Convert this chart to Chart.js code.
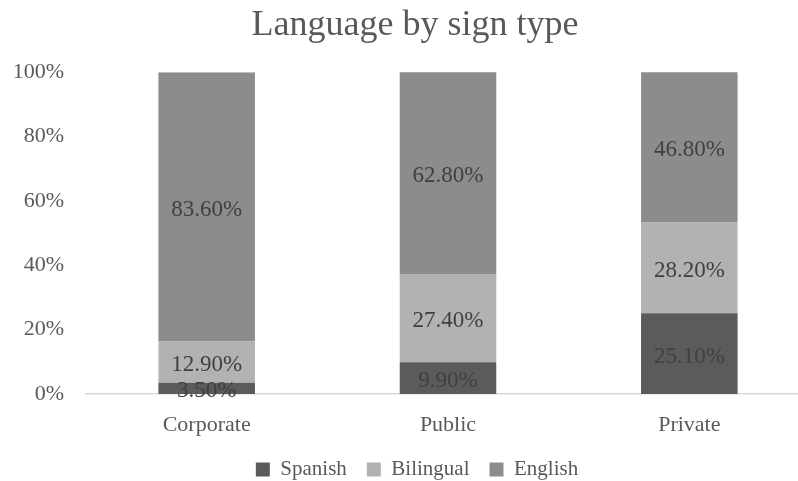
<!DOCTYPE html>
<html>
<head>
<meta charset="utf-8">
<script src="https://cdn.jsdelivr.net/npm/chart.js@4/dist/chart.umd.min.js"></script>
<style>
  html, body { margin: 0; padding: 0; background: #ffffff; overflow: hidden; }
  #wrap { width: 830px; height: 481px; }
</style>
</head>
<body>
<div id="wrap"><canvas id="chart" width="830" height="481"></canvas></div>
<script>
const categories = ['Corporate', 'Public', 'Private'];
const spanish   = [3.5, 9.9, 25.1];
const bilingual = [12.9, 27.4, 28.2];
const english   = [83.6, 62.8, 46.8];
const yTicks    = [0, 20, 40, 60, 80, 100];

const FONT = "'Liberation Serif', 'DejaVu Serif', serif";

// Writes each segment's value in the middle of its bar piece
const segmentLabels = {
  id: 'segmentLabels',
  afterDatasetsDraw(chart) {
    const ctx = chart.ctx;
    ctx.save();
    ctx.font = '23px ' + FONT;
    ctx.fillStyle = '#404040';
    ctx.textAlign = 'center';
    ctx.textBaseline = 'middle';
    chart.data.datasets.forEach((ds, di) => {
      const meta = chart.getDatasetMeta(di);
      meta.data.forEach((bar, i) => {
        const v = ds.data[i];
        const yMid = (bar.y + bar.base) / 2;
        ctx.fillText(v.toFixed(2) + '%', bar.x, yMid + 3);
      });
    });
    ctx.restore();
  }
};

// Centres the title and legend on the whole canvas rather than on the padded area
const centreHeadings = {
  id: 'centreHeadings',
  afterLayout(chart) {
    if (chart.titleBlock) { chart.titleBlock.left += 10; chart.titleBlock.right += 10; }
    if (chart.legend) { chart.legend.left += 12; chart.legend.right += 12; }
  }
};

new Chart(document.getElementById('chart'), {
  type: 'bar',
  data: {
    labels: categories,
    datasets: [
      { label: 'Spanish',   data: spanish,   backgroundColor: '#5b5b5b' },
      { label: 'Bilingual', data: bilingual, backgroundColor: '#b2b2b2' },
      { label: 'English',   data: english,   backgroundColor: '#8c8c8c' }
    ]
  },
  options: {
    responsive: false,
    animation: false,
    layout: { padding: { left: 0, right: 20, top: 0, bottom: -9 } },
    datasets: { bar: { categoryPercentage: 0.4, barPercentage: 1.0, borderWidth: 0 } },
    plugins: {
      title: {
        display: true,
        text: 'Language by sign type',
        color: '#595959',
        font: { family: FONT, size: 36, weight: 'normal', lineHeight: 1.2 },
        padding: { top: 4, bottom: 25 }
      },
      legend: {
        position: 'bottom',
        labels: {
          color: '#595959',
          font: { family: FONT, size: 21 },
          boxWidth: 14,
          boxHeight: 14,
          padding: 20
        }
      },
      tooltip: { enabled: false }
    },
    scales: {
      x: {
        stacked: true,
        grid: { display: false, drawTicks: false },
        border: { display: true, color: '#d9d9d9', width: 1.5 },
        ticks: { color: '#595959', font: { family: FONT, size: 22 }, padding: 18 },
        afterFit(scale) { scale.height = 45; }
      },
      y: {
        stacked: true,
        min: 0,
        max: 100,
        afterBuildTicks(scale) { scale.ticks = yTicks.map(v => ({ value: v })); },
        grid: { display: false, drawTicks: false },
        border: { display: false },
        ticks: {
          color: '#595959',
          font: { family: FONT, size: 22 },
          padding: 22,
          callback: v => v + '%'
        },
        afterFit(scale) { scale.width = 86; }
      }
    }
  },
  plugins: [segmentLabels, centreHeadings]
});
</script>
</body>
</html>
